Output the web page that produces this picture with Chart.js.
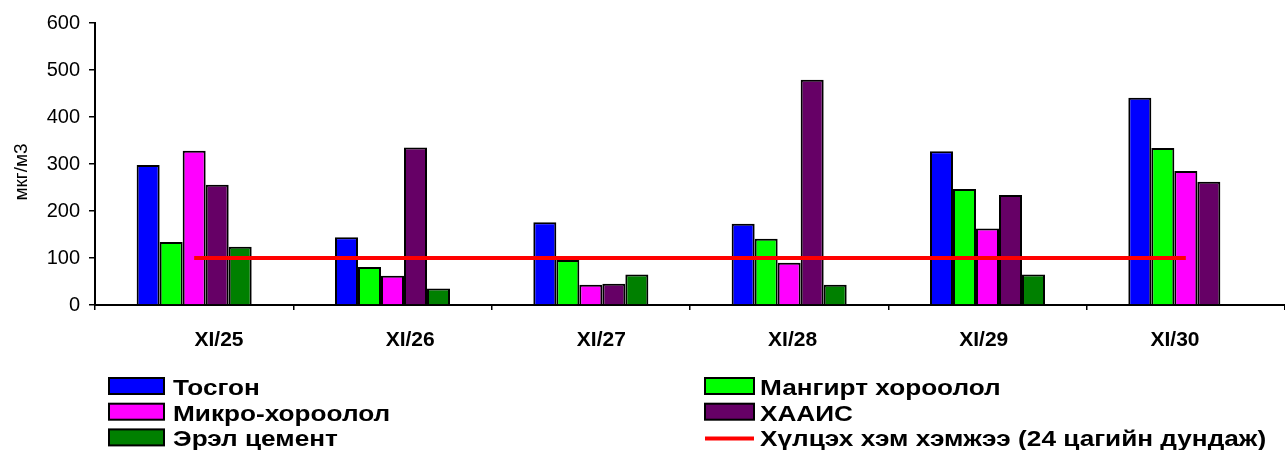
<!DOCTYPE html>
<html>
<head>
<meta charset="utf-8">
<script src="https://cdn.jsdelivr.net/npm/chart.js@4/dist/chart.umd.min.js"></script>
<style>
  html, body { margin: 0; padding: 0; background: #fff; overflow: hidden; }
  #wrap { width: 1285px; height: 450px; }
</style>
</head>
<body>
<div id="wrap"><canvas id="c" width="1285" height="450"></canvas></div>
<script>
// Daily concentrations by station (мкг/м3)
const categories = ['XI/25', 'XI/26', 'XI/27', 'XI/28', 'XI/29', 'XI/30'];
const tosgon  = [298, 144, 176, 173, 327, 441];
const mangirt = [134, 81, 96, 141, 247, 334];
const mikro   = [328, 62, 43, 90, 163, 285];
const khaais  = [256, 335, 45, 479, 234, 262];
const erel    = [124, 35, 65, 43, 65, null];
const limit   = [100, 100, 100, 100, 100, 100];
const yTicks  = [0, 100, 200, 300, 400, 500, 600];
const seriesNames = [
  'Тосгон',
  'Мангирт хороолол',
  'Микро-хороолол',
  'ХААИС',
  'Эрэл цемент',
  'Хүлцэх хэм хэмжээ (24 цагийн дундаж)'
];

const FONT = '"Liberation Sans", Arial, sans-serif';

function barSet(label, data, color) {
  return {
    type: 'bar',
    label: label,
    data: data,
    backgroundColor: color,
    borderColor: '#000',
    borderWidth: 2,
    categoryPercentage: 0.58,
    barPercentage: 1.0
  };
}

// Two-column legend drawn under the axis
const gridLegend = {
  id: 'gridLegend',
  afterDraw(chart) {
    const ctx = chart.ctx;
    const cols = [
      { sx: 109, sw: 55, tx: 173 },
      { sx: 705, sw: 49, tx: 760 }
    ];
    const rowTop = 378, rowStep = 25.7, boxH = 16;
    chart.data.datasets.forEach((ds, i) => {
      const c = cols[i % 2];
      const y = rowTop + Math.floor(i / 2) * rowStep;
      ctx.save();
      if (ds.type === 'line') {
        ctx.strokeStyle = ds.borderColor;
        ctx.lineWidth = 4;
        ctx.beginPath();
        ctx.moveTo(c.sx, y + boxH / 2 + 1);
        ctx.lineTo(c.sx + c.sw, y + boxH / 2 + 1);
        ctx.stroke();
      } else {
        ctx.fillStyle = ds.backgroundColor;
        ctx.fillRect(c.sx, y, c.sw, boxH);
        ctx.strokeStyle = '#000';
        ctx.lineWidth = 2;
        ctx.strokeRect(c.sx, y, c.sw, boxH);
      }
      ctx.fillStyle = '#000';
      ctx.font = 'bold 22px ' + FONT;
      ctx.textBaseline = 'alphabetic';
      ctx.textAlign = 'left';
      ctx.translate(c.tx, y + 17);
      ctx.scale(1.19, 1);
      ctx.fillText(ds.label, 0, 0);
      ctx.restore();
    });
  }
};

new Chart(document.getElementById('c'), {
  type: 'bar',
  data: {
    labels: categories,
    datasets: [
      barSet(seriesNames[0], tosgon, '#0000FF'),
      barSet(seriesNames[1], mangirt, '#00FF00'),
      barSet(seriesNames[2], mikro, '#FF00FF'),
      barSet(seriesNames[3], khaais, '#660066'),
      barSet(seriesNames[4], erel, '#008000'),
      {
        type: 'line',
        label: seriesNames[5],
        data: limit,
        borderColor: '#FF0000',
        backgroundColor: '#FF0000',
        borderWidth: 4,
        pointRadius: 0,
        fill: false,
        order: -1
      }
    ]
  },
  options: {
    responsive: false,
    animation: false,
    devicePixelRatio: 1,
    layout: { padding: { top: 23, right: 0, left: 0, bottom: 0 } },
    plugins: {
      legend: { display: false },
      tooltip: { enabled: false }
    },
    scales: {
      x: {
        weight: 0,
        grid: { display: true, drawOnChartArea: false, color: '#000', lineWidth: 1.5, tickLength: 5, offset: true },
        border: { display: true, color: '#000', width: 2 },
        ticks: { display: false },
        afterFit(s) { s.height = 5; }
      },
      // label row under the category axis, spaced a little tighter than the groups
      xl: {
        type: 'linear',
        position: 'bottom',
        weight: 1,
        offset: false,
        bounds: 'data',
        min: -0.6485,
        max: 5.5755,
        grid: { display: false, drawTicks: false, offset: false },
        border: { display: false },
        afterBuildTicks(s) { s.ticks = categories.map((_, i) => ({ value: i })); },
        ticks: {
          color: '#000',
          font: { family: FONT, size: 21, weight: 'bold' },
          padding: 18,
          maxRotation: 0,
          autoSkip: false,
          callback: v => categories[v]
        },
        afterFit(s) { s.height = 140; }
      },
      y: {
        min: 0,
        max: 600,
        grid: { display: true, drawOnChartArea: false, color: '#000', lineWidth: 1.5, tickLength: 6 },
        border: { display: true, color: '#000', width: 2 },
        ticks: { color: '#000', font: { family: FONT, size: 20 }, padding: 9 },
        afterBuildTicks(s) { s.ticks = yTicks.map(v => ({ value: v })); },
        title: { display: true, text: 'мкг/м3   ', color: '#000', font: { family: FONT, size: 19 }, padding: { top: 10, bottom: 0 } },
        afterFit(s) { s.width = 95; }
      }
    }
  },
  plugins: [gridLegend]
});
</script>
</body>
</html>
